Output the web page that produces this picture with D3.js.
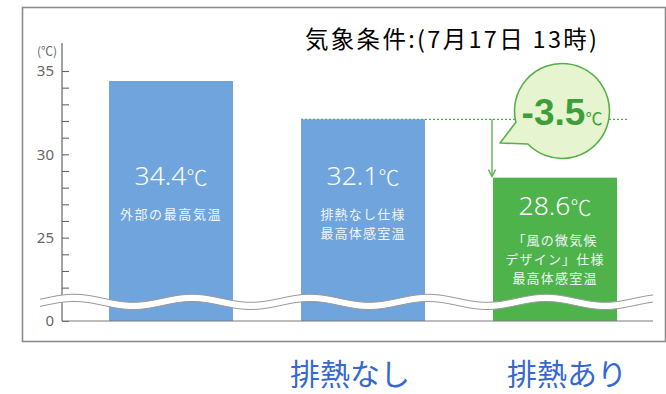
<!DOCTYPE html>
<html lang="ja">
<head>
<meta charset="utf-8">
<script src="https://cdn.jsdelivr.net/npm/d3@7"></script>
<style>
  html, body { margin: 0; padding: 0; background: #fff; }
  svg { display: block; }
</style>
</head>
<body>
<svg id="chart" width="666" height="394"></svg>
<script>
// ---- data ----
const categories = ["外部", "排熱なし", "排熱あり"];
const values = [34.4, 32.1, 28.6];
const valueLabels = ["34.4", "32.1", "28.6"];
const barNotes = [
  ["外部の最高気温"],
  ["排熱なし仕様", "最高体感室温"],
  ["「風の微気候", "デザイン」仕様", "最高体感室温"]
];
const barColors = ["#6fa4dc", "#6fa4dc", "#4fb34c"];
const majorTicks = [35, 30, 25, 0];
const minorTicks = [34, 33, 32, 31, 29, 28, 27, 26, 24, 23, 22];
const groupLabels = [
  { cat: "排熱なし", text: "排熱なし", dx: -13 },
  { cat: "排熱あり", text: "排熱あり", dx: 12 }
];
const title = "気象条件:(7月17日 13時)";
const unitLabel = "(℃)";
const diff = +(values[2] - values[1]).toFixed(1); // -3.5

const svg = d3.select("#chart");
const JP = "'Noto Sans CJK JP', 'Noto Sans', sans-serif";

// frame
svg.append("rect")
  .attr("x", 22.5).attr("y", 7.5).attr("width", 643).attr("height", 334)
  .attr("fill", "#fff").attr("stroke", "#8c8c8c").attr("stroke-width", 1.6);

// scales: the axis is broken between 0 and 21
const y = d3.scaleLinear().domain([0, 21, 35]).range([321, 304.3, 71]);
const x = d3.scaleBand().domain(categories).range([75, 651])
  .paddingInner(68 / 192).paddingOuter(0.177);

const axisX = 62;

// bars
svg.append("g").selectAll("rect").data(values).join("rect")
  .attr("x", (d, i) => x(categories[i]))
  .attr("y", d => y(d))
  .attr("width", x.bandwidth())
  .attr("height", d => y(0) - y(d))
  .attr("fill", (d, i) => barColors[i]);

// bar value labels and notes
const vl = svg.append("g").attr("fill", "#fbfdff").attr("font-family", "'Noto Sans', sans-serif");
values.forEach((v, i) => {
  const cx = x(categories[i]) + x.bandwidth() / 2;
  const by = i < 2 ? 185 : 215;
  const t = vl.append("text").attr("x", cx).attr("y", by).attr("text-anchor", "middle")
    .attr("font-size", 26.5).attr("font-weight", 300);
  t.append("tspan").text(valueLabels[i]);
  t.append("tspan").attr("font-size", 21).attr("font-family", JP).text("℃");
  const noteStart = i < 2 ? 219 : 245;
  const noteStep = i < 2 ? 19 : 19;
  barNotes[i].forEach((line, j) => {
    vl.append("text").attr("x", cx).attr("y", noteStart + j * noteStep)
      .attr("text-anchor", "middle").attr("font-family", JP)
      .attr("font-size", 13).attr("letter-spacing", i === 0 ? 1.6 : 1.2)
      .attr("fill", "#eef5fb").text(line);
  });
});

// axis line and ticks
svg.append("line").attr("x1", axisX).attr("x2", axisX).attr("y1", 43).attr("y2", y(0))
  .attr("stroke", "#666").attr("stroke-width", 1.2);

const axis = d3.axisLeft(y)
  .tickValues(majorTicks.concat(minorTicks))
  .tickSize(-7).tickSizeOuter(0).tickPadding(8)
  .tickFormat(d => majorTicks.includes(d) ? d : "");
const ag = svg.append("g").attr("transform", `translate(${axisX},0)`).call(axis);
ag.select(".domain").remove();
ag.selectAll(".tick line").attr("stroke", "#666").attr("stroke-width", 1.1);
ag.selectAll(".tick text").attr("fill", "#666").attr("font-size", 15)
  .attr("font-family", "'Noto Sans', sans-serif");

svg.append("text").attr("x", 47).attr("y", 56).attr("text-anchor", "middle")
  .attr("font-family", JP).attr("font-size", 12).attr("fill", "#666").text(unitLabel);

// wavy break band
const wave = (xx, base) => base - 4 * Math.cos(2 * Math.PI * (xx - 74) / 118);
const xs = d3.range(40, 653.5, 1);
const upper = xs.map(xx => [xx, wave(xx, 298.3)]);
const lower = xs.map(xx => [xx, wave(xx, 305.5)]);
const line = d3.line();
svg.append("path").attr("d", line(upper.concat(lower.slice().reverse())) + "Z")
  .attr("fill", "#fff");
svg.append("path").attr("d", line(upper)).attr("fill", "none").attr("stroke", "#999").attr("stroke-width", 1);
svg.append("path").attr("d", line(lower)).attr("fill", "none").attr("stroke", "#999").attr("stroke-width", 1);

// baseline
svg.append("line").attr("x1", axisX).attr("x2", 653).attr("y1", y(0)).attr("y2", y(0))
  .attr("stroke", "#7a7a7a").attr("stroke-width", 1.2);

// difference annotation: dotted reference line, arrow, speech bubble
const refY = y(values[1]);
svg.append("line").attr("x1", x(categories[1])).attr("x2", 628)
  .attr("y1", refY).attr("y2", refY)
  .attr("stroke", "#4fae4a").attr("stroke-width", 1.3).attr("stroke-dasharray", "2,2");

const arrowX = x(categories[2]) - 1;
const tipY = y(values[2]) - 1;
svg.append("line").attr("x1", arrowX).attr("x2", arrowX).attr("y1", refY).attr("y2", tipY - 2)
  .attr("stroke", "#4fae4a").attr("stroke-width", 1.3);
svg.append("path")
  .attr("d", `M${arrowX - 3.5},${tipY - 7} L${arrowX},${tipY} L${arrowX + 3.5},${tipY - 7}`)
  .attr("fill", "none").attr("stroke", "#4fae4a").attr("stroke-width", 1.3);

const bcx = 562, bcy = 111, br = 47.5;
// bubble outline with tail toward the arrow
const a1 = Math.atan2(123 - bcy, 513 - bcx);
const a2 = Math.atan2(141 - bcy, 531 - bcx);
const p1 = [bcx + br * Math.cos(a1), bcy + br * Math.sin(a1)];
const p2 = [bcx + br * Math.cos(a2), bcy + br * Math.sin(a2)];
const bubble = `M${p2[0]},${p2[1]} A${br},${br} 0 1 0 ${p1[0]},${p1[1]} L500,143 Z`;
svg.append("path").attr("d", bubble)
  .attr("fill", "#e6f4cf").attr("stroke", "#5aae4c").attr("stroke-width", 1.6)
  .attr("stroke-linejoin", "round");

const bt = svg.append("text").attr("x", bcx).attr("y", 125).attr("text-anchor", "middle")
  .attr("fill", "#3f9e3c").attr("font-family", "'Liberation Sans', Arial, sans-serif")
  .attr("font-weight", 700);
bt.append("tspan").attr("font-size", 37).text(diff.toFixed(1));
bt.append("tspan").attr("font-size", 17).attr("font-weight", 400).attr("font-family", JP).text("℃");

// title
svg.append("text").attr("x", 305).attr("y", 48)
  .attr("font-family", JP).attr("font-size", 23.5).attr("font-weight", 400).attr("fill", "#000")
  .attr("textLength", 292).attr("lengthAdjust", "spacing").text(title);

// group labels under the bars
svg.append("g").selectAll("text").data(groupLabels).join("text")
  .attr("x", d => x(d.cat) + x.bandwidth() / 2 + d.dx)
  .attr("y", 385).attr("text-anchor", "middle")
  .attr("font-family", JP).attr("font-size", 30).attr("fill", "#3569cf")
  .text(d => d.text);
</script>
</body>
</html>
